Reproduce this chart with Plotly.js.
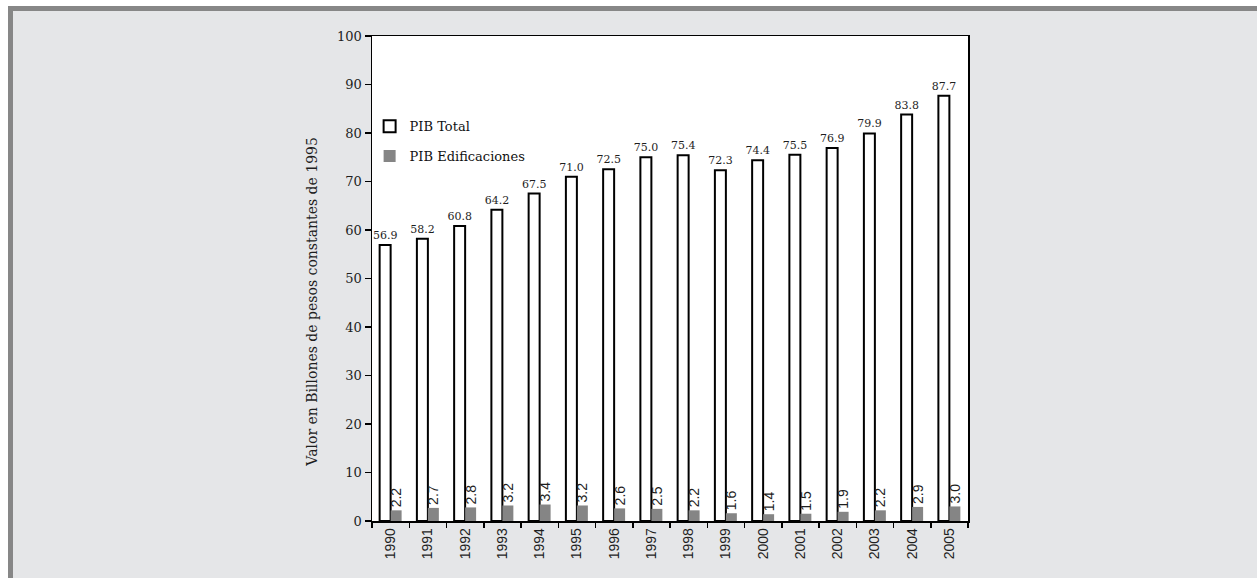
<!DOCTYPE html>
<html>
<head>
<meta charset="utf-8">
<script src="https://cdn.plot.ly/plotly-3.0.1.min.js"></script>
<style>
  html, body { margin: 0; padding: 0; background: #ffffff; }
  #wrap { position: relative; width: 1257px; height: 578px; overflow: hidden; }
  #frame {
    position: absolute; left: 8px; top: 6px; width: 1249px; height: 572px;
    box-sizing: border-box; background: #e5e6e8;
    border-top: 5px solid #878787; border-left: 5px solid #878787;
  }
  #chart { position: absolute; left: 0; top: 0; width: 1257px; height: 578px; }
</style>
</head>
<body>
<div id="wrap">
  <div id="frame"></div>
  <div id="chart"></div>
</div>
<script>
// PIB total y PIB de edificaciones, billones de pesos constantes de 1995
const years = ['1990','1991','1992','1993','1994','1995','1996','1997',
               '1998','1999','2000','2001','2002','2003','2004','2005'];
const pibTotal = [56.9, 58.2, 60.8, 64.2, 67.5, 71.0, 72.5, 75.0,
                  75.4, 72.3, 74.4, 75.5, 76.9, 79.9, 83.8, 87.7];
const pibEdificaciones = [2.2, 2.7, 2.8, 3.2, 3.4, 3.2, 2.6, 2.5,
                          2.2, 1.6, 1.4, 1.5, 1.9, 2.2, 2.9, 3.0];
const yTicks = [0, 10, 20, 30, 40, 50, 60, 70, 80, 90, 100];
const yTitle = 'Valor en Billones de pesos constantes de 1995';

const serif = 'DejaVu Serif, serif';
const sans = 'Liberation Sans, Arial, sans-serif';

const traces = [
  {
    type: 'bar', name: 'PIB Total', x: years, y: pibTotal,
    legendgroup: 'a',
    marker: { color: '#ffffff', line: { color: '#000000', width: 2 } },
    texttemplate: '%{y:.1f}', textposition: 'outside', constraintext: 'none',
    cliponaxis: false,
    textfont: { family: serif, size: 11, color: '#1e1e1e' },
    hoverinfo: 'x+y'
  },
  {
    type: 'bar', name: 'PIB Edificaciones', x: years, y: pibEdificaciones,
    legendgroup: 'b',
    marker: { color: '#858585', line: { width: 0 } },
    texttemplate: '%{y:.1f}', textposition: 'outside', constraintext: 'none',
    textangle: -90, cliponaxis: false,
    textfont: { family: sans, size: 14, color: '#1e1e1e' },
    hoverinfo: 'x+y'
  }
];

const layout = {
  width: 1257, height: 578,
  paper_bgcolor: 'rgba(0,0,0,0)',
  plot_bgcolor: '#ffffff',
  margin: { l: 372, r: 289, t: 36, b: 56.5, pad: 0 },
  barmode: 'group', bargap: 0.41, bargroupgap: 0,
  showlegend: true,
  legend: {
    x: -0.004, y: 0.845, xanchor: 'left', yanchor: 'top',
    bgcolor: 'rgba(0,0,0,0)', traceorder: 'grouped', tracegroupgap: 10,
    font: { family: serif, size: 13, color: '#111111' }
  },
  xaxis: {
    type: 'category', tickangle: -90, tickson: 'boundaries',
    ticks: 'outside', ticklen: 5, tickwidth: 1.5, tickcolor: '#000000',
    showline: true, linecolor: '#000000', linewidth: 1.5, mirror: true,
    showgrid: false, zeroline: false,
    tickfont: { family: sans, size: 14, color: '#1e1e1e' }
  },
  yaxis: {
    range: [0, 100], tickvals: yTicks, ticktext: yTicks.map(String),
    ticks: 'outside', ticklen: 6, tickwidth: 1.5, tickcolor: '#000000',
    showline: true, linecolor: '#000000', linewidth: 1.5, mirror: true,
    showgrid: false, zeroline: false,
    tickfont: { family: serif, size: 13, color: '#1e1e1e' }
  },
  annotations: [{
    text: yTitle, textangle: -90, showarrow: false,
    xref: 'paper', yref: 'paper', x: -0.1, y: 0.453,
    xanchor: 'center', yanchor: 'middle',
    font: { family: serif, size: 14, color: '#1e1e1e' }
  }]
};

Plotly.newPlot('chart', traces, layout, { staticPlot: true, displayModeBar: false });
</script>
</body>
</html>
